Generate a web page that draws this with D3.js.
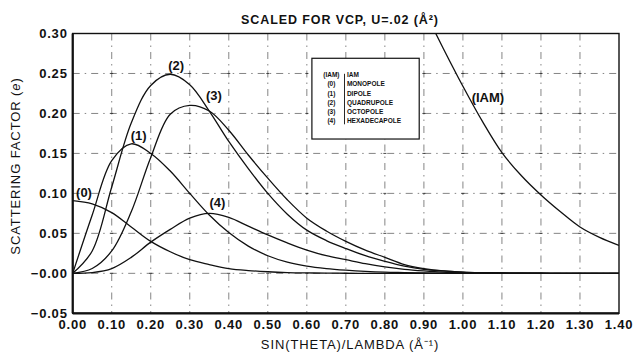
<!DOCTYPE html>
<html>
<head>
<meta charset="utf-8">
<script src="https://cdn.jsdelivr.net/npm/d3@7"></script>
<style>
  body { margin: 0; background: #fff; }
  svg { display: block; font-family: "Liberation Sans", Arial, sans-serif; }
  .tick-label { font-size: 13px; font-weight: bold; letter-spacing: 0.8px; fill: #111; }
  .axis-title { font-size: 13px; letter-spacing: 0.9px; fill: #111; }
  .curve-label { font-size: 13px; font-weight: bold; fill: #111; }
  .legend-text { font-size: 6.5px; font-weight: bold; fill: #111; }
</style>
</head>
<body>
<div id="chart"></div>
<script>
const width = 636, height = 352;
const margin = {top: 33.5, right: 17, bottom: 38.7, left: 72.7};

// sin(theta)/lambda sample points (Å^-1)
const sinThetaOverLambda = [0.00, 0.05, 0.10, 0.15, 0.20, 0.25, 0.30, 0.35, 0.40, 0.45,
                            0.50, 0.55, 0.60, 0.65, 0.70, 0.75, 0.80, 0.85, 0.90, 0.95,
                            1.00, 1.05, 1.10, 1.15, 1.20, 1.25, 1.30, 1.35, 1.40];

// scattering factors (e)
const monopole     = [0.091, 0.087, 0.076, 0.058, 0.040, 0.027, 0.017, 0.011, 0.006, 0.0035,
                      0.002, 0.001, 0.0005, 0.0002, 0.0001, 0, 0, 0, 0, 0,
                      0, 0, 0, 0, 0, 0, 0, 0, 0];
const dipole       = [0, 0.073, 0.141, 0.162, 0.150, 0.128, 0.100, 0.073, 0.051, 0.034,
                      0.022, 0.014, 0.009, 0.006, 0.004, 0.0025, 0.0015, 0.001, 0.0005, 0.0003,
                      0.0002, 0.0001, 0, 0, 0, 0, 0, 0, 0];
const quadrupole   = [0, 0.028, 0.108, 0.188, 0.235, 0.249, 0.236, 0.203, 0.165, 0.131,
                      0.100, 0.074, 0.054, 0.041, 0.031, 0.022, 0.015, 0.009, 0.005, 0.003,
                      0.0015, 0.0008, 0.0004, 0.0002, 0.0001, 0, 0, 0, 0];
const octopole     = [0, 0.006, 0.028, 0.077, 0.145, 0.199, 0.210, 0.203, 0.179, 0.148,
                      0.119, 0.092, 0.069, 0.053, 0.040, 0.029, 0.020, 0.011, 0.006, 0.003,
                      0.0015, 0.0008, 0.0004, 0.0002, 0.0001, 0, 0, 0, 0];
const hexadecapole = [0, 0.001, 0.006, 0.020, 0.039, 0.055, 0.069, 0.075, 0.070, 0.059,
                      0.048, 0.038, 0.029, 0.022, 0.017, 0.012, 0.008, 0.005, 0.003, 0.0015,
                      0.0008, 0.0004, 0.0002, 0.0001, 0, 0, 0, 0, 0];

// IAM curve only shows up past 0.9 (it runs off the top before that)
const iamS = [0.90, 0.95, 1.00, 1.05, 1.10, 1.15, 1.20, 1.25, 1.30, 1.35, 1.40];
const iamF = [0.330, 0.281, 0.234, 0.190, 0.151, 0.122, 0.098, 0.077, 0.058, 0.045, 0.035];

const xTicks = [0.00, 0.10, 0.20, 0.30, 0.40, 0.50, 0.60, 0.70, 0.80, 0.90, 1.00, 1.10, 1.20, 1.30, 1.40];
const yTicks = [-0.05, 0.00, 0.05, 0.10, 0.15, 0.20, 0.25, 0.30];

const legendKeys  = ["(IAM)", "(0)", "(1)", "(2)", "(3)", "(4)"];
const legendNames = ["IAM", "MONOPOLE", "DIPOLE", "QUADRUPOLE", "OCTOPOLE", "HEXADECAPOLE"];

const x = d3.scaleLinear().domain([0, 1.4]).range([margin.left, width - margin.right]);
const y = d3.scaleLinear().domain([-0.05, 0.30]).range([height - margin.bottom, margin.top]);

const svg = d3.select("#chart").append("svg")
    .attr("width", width)
    .attr("height", height);

svg.append("clipPath").attr("id", "plotclip")
  .append("rect")
    .attr("x", x(0)).attr("y", y(0.30))
    .attr("width", x(1.4) - x(0)).attr("height", y(-0.05) - y(0.30));

// dash-dot grid like the scanned original
const grid = svg.append("g").attr("stroke", "#666").attr("stroke-width", 0.8)
    .attr("stroke-dasharray", "7,5,1.5,5");
xTicks.slice(1, -1).forEach(t => {
  grid.append("line").attr("x1", x(t)).attr("x2", x(t)).attr("y1", y(0.30)).attr("y2", y(-0.05));
});
yTicks.slice(1, -1).forEach(t => {
  grid.append("line").attr("x1", x(0)).attr("x2", x(1.4)).attr("y1", y(t)).attr("y2", y(t));
});
// little cross marks at grid intersections
const marks = svg.append("g").attr("stroke", "#333").attr("stroke-width", 0.9);
xTicks.slice(1, -1).forEach(tx => yTicks.slice(1, -1).forEach(ty => {
  marks.append("line").attr("x1", x(tx) - 1.5).attr("x2", x(tx) + 1.5).attr("y1", y(ty)).attr("y2", y(ty));
}));

// curves
const line = d3.line()
    .x(d => x(d[0]))
    .y(d => y(d[1]))
    .curve(d3.curveCatmullRom.alpha(0.5));

const curves = svg.append("g").attr("clip-path", "url(#plotclip)")
    .attr("fill", "none").attr("stroke", "#111").attr("stroke-width", 1.3);

[monopole, dipole, quadrupole, octopole, hexadecapole].forEach(series => {
  curves.append("path").attr("d", line(d3.zip(sinThetaOverLambda, series)));
});
curves.append("path").attr("d", line(d3.zip(iamS, iamF)));

// frame
svg.append("rect")
    .attr("x", x(0)).attr("y", y(0.30))
    .attr("width", x(1.4) - x(0)).attr("height", y(-0.05) - y(0.30))
    .attr("fill", "none").attr("stroke", "#111").attr("stroke-width", 1.4);
svg.append("line").attr("x1", x(0)).attr("x2", x(0)).attr("y1", y(0.30)).attr("y2", y(-0.05))
    .attr("stroke", "#111").attr("stroke-width", 2.2);
svg.append("line").attr("x1", x(0)).attr("x2", x(1.4)).attr("y1", y(-0.05)).attr("y2", y(-0.05))
    .attr("stroke", "#111").attr("stroke-width", 2.2);

// tick labels
svg.append("g").selectAll("text").data(yTicks).join("text")
    .attr("class", "tick-label")
    .attr("x", x(0) - 5)
    .attr("y", d => y(d) + 4.6)
    .attr("text-anchor", "end")
    .text(d => d <= 0 ? "\u2212" + Math.abs(d).toFixed(2) : d.toFixed(2));

svg.append("g").selectAll("text").data(xTicks).join("text")
    .attr("class", "tick-label")
    .attr("x", d => x(d))
    .attr("y", y(-0.05) + 16)
    .attr("text-anchor", "middle")
    .text(d => d.toFixed(2));

// titles
svg.append("text")
    .attr("x", 340).attr("y", 23.5)
    .attr("text-anchor", "middle")
    .attr("font-size", 12.5).attr("font-weight", "bold").attr("fill", "#111")
    .attr("letter-spacing", 0.9)
    .text("SCALED FOR VCP, U=.02 (Å²)");

svg.append("text")
    .attr("class", "axis-title")
    .attr("x", 350).attr("y", 348.5)
    .attr("text-anchor", "middle")
    .text("SIN(THETA)/LAMBDA (Å⁻¹)");

const yTitle = svg.append("text")
    .attr("class", "axis-title")
    .attr("transform", "translate(19.5," + 166 + ") rotate(-90)")
    .attr("text-anchor", "middle");
yTitle.append("tspan").text("SCATTERING FACTOR (");
yTitle.append("tspan").attr("font-style", "italic").text("e");
yTitle.append("tspan").text(")");

// curve labels
const curveLabels = [
  {text: "(0)",   s: 0.029, v: 0.1016},
  {text: "(1)",   s: 0.169, v: 0.173},
  {text: "(2)",   s: 0.265, v: 0.260},
  {text: "(3)",   s: 0.362, v: 0.223},
  {text: "(4)",   s: 0.371, v: 0.088},
  {text: "(IAM)", s: 1.064, v: 0.220}
];
svg.append("g").selectAll("text").data(curveLabels).join("text")
    .attr("class", "curve-label")
    .attr("x", d => x(d.s))
    .attr("y", d => y(d.v) + 4.5)
    .attr("text-anchor", "middle")
    .text(d => d.text);

// legend box
const lx0 = x(0.613), lx1 = x(0.888), ly0 = y(0.269), ly1 = y(0.168);
const legend = svg.append("g");
legend.append("rect")
    .attr("x", lx0).attr("y", ly0).attr("width", lx1 - lx0).attr("height", ly1 - ly0)
    .attr("fill", "#fff").attr("stroke", "#111").attr("stroke-width", 1.2);
legend.append("line")
    .attr("x1", lx0 + 32.6).attr("x2", lx0 + 32.6)
    .attr("y1", ly0 + 15.5).attr("y2", ly0 + 66)
    .attr("stroke", "#111").attr("stroke-width", 0.9);
legendKeys.forEach((k, i) => {
  legend.append("text").attr("class", "legend-text")
      .attr("x", lx0 + 19.5).attr("y", ly0 + 19 + i * 9.2)
      .attr("text-anchor", "middle").text(k);
  legend.append("text").attr("class", "legend-text")
      .attr("x", lx0 + 35).attr("y", ly0 + 19 + i * 9.2)
      .text(legendNames[i]);
});
</script>
</body>
</html>
